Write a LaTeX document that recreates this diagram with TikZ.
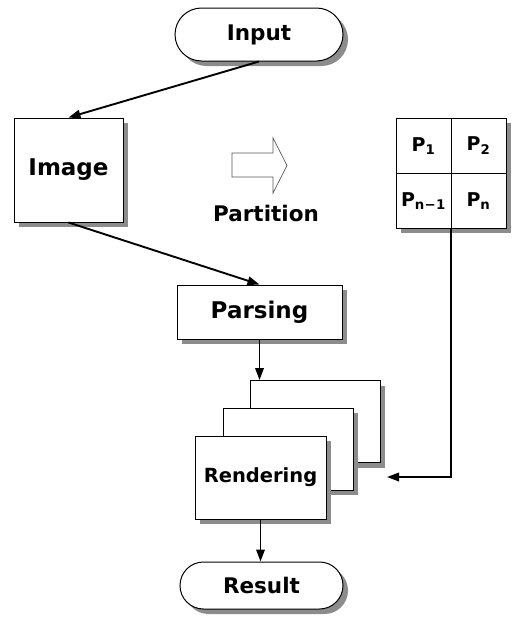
\documentclass[tikz,border=0pt]{standalone}
\usepackage{fontspec}
\setmainfont{DejaVu Sans}
\usetikzlibrary{arrows.meta,shapes.misc}
\newcommand\shbox[6][]{%
  \node[shadowshape,#1,minimum width=#4,minimum height=#5] (#2-sh) at ([shift={(5,5)}]#3) {};
  \node[box,#1,minimum width=#4,minimum height=#5] (#2) at (#3) {#6};}
\begin{document}
\begin{tikzpicture}[x=1pt,y=-1pt,
  lbl/.style={font=\fontsize{21.5}{21.5}\selectfont\bfseries},
  shadowshape/.style={fill=black!45,draw=none,rectangle,inner sep=0pt},
  box/.style={draw=black,line width=1pt,fill=white,rectangle,inner sep=0pt,lbl},
  plbl/.style={font=\fontsize{19}{19}\selectfont\bfseries},
  conn/.style={line width=1.9pt,-{Triangle[length=12pt,width=8.5pt]}},
]
\useasboundingbox (0,0) rectangle (514,619);

% terminals
\shbox[rounded rectangle]{input}{259,34.5}{168pt}{53pt}{Input}
\shbox[rounded rectangle]{result}{261.5,585.5}{163pt}{47pt}{Result}

% image and parsing
\shbox[font=\fontsize{23}{23}\selectfont\bfseries]{image}{68.5,170}{109pt}{104pt}{Image}
\shbox[font=\fontsize{23}{23}\selectfont\bfseries]{parsing}{259.5,312}{165pt}{54pt}{Parsing}

% rendering stack
\shbox{back}{315,421.5}{130pt}{82pt}{}
\shbox{middle}{288,449}{130pt}{82pt}{}
\shbox[font=\fontsize{19.5}{19.5}\selectfont\bfseries]{front}{260.5,477.5}{131pt}{83pt}{Rendering}

% partition grid
\shbox{grid}{451,173}{110pt}{110pt}{}
\draw[line width=0.8pt] (grid.north) -- (grid.south);
\draw[line width=0.8pt] (grid.west) -- (grid.east);
\node[plbl] (p1) at (423.5,146) {P\textsubscript{1}};
\node[plbl] (p2) at (478.5,146) {P\textsubscript{2}};
\node[plbl] (pn1) at (423.5,201) {P\textsubscript{n\kern0.3pt−\kern0.3pt1}};
\node[plbl] (pn) at (478.5,201) {P\textsubscript{n}};

% partition arrow
\draw[black!65,line width=0.7pt,fill=white,line join=miter]
  (232,153) -- (273,153) -- (273,138) -- (287,165.5) -- (273,193) -- (273,177) -- (232,177) -- cycle;
\node[lbl] (partlbl) at (266,213) {Partition};

% connectors
\draw[conn] (input.south) -- (image.north);
\draw[conn] (image.south) -- (parsing.north);
\draw[conn] (parsing.south) -- (parsing.south |- back.north);
\draw[conn] (front.south) -- (front.south |- result.north);
\coordinate (pin) at (387,477);
\draw[conn] (grid.south) |- (pin);
\end{tikzpicture}
\end{document}
